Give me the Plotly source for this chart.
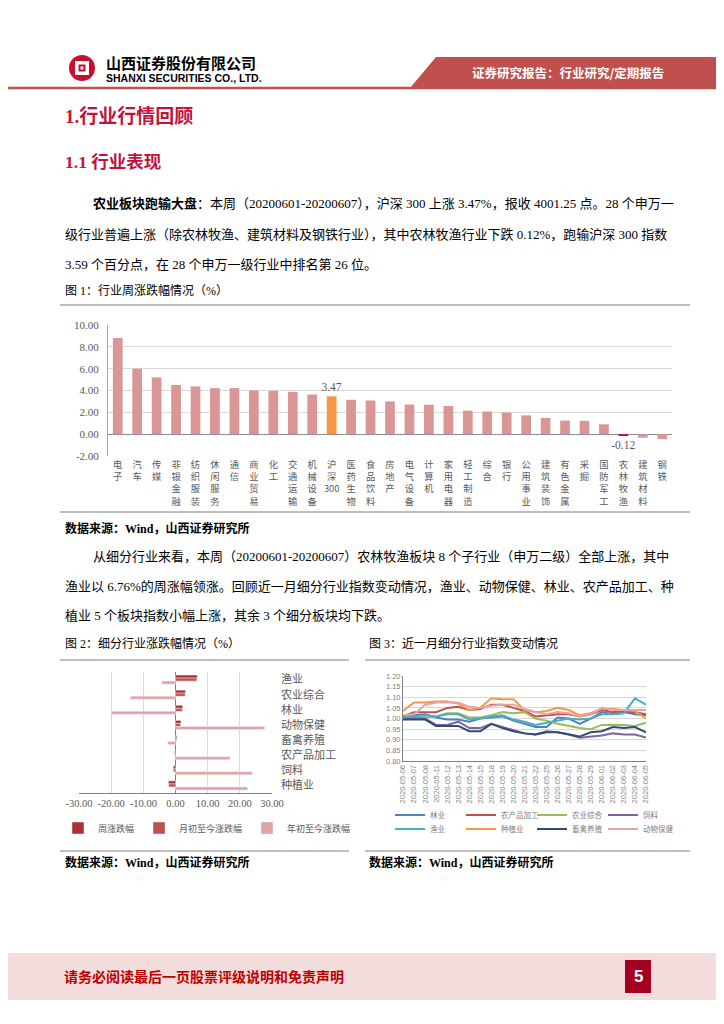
import plotly.graph_objects as go

W, H = 724, 1024
OFF = 8  # the page body margin shifts the figure by 8px; compensate


def px(x):
    return (x - OFF) / W


def py(y):
    return 1 - (y - OFF) / H


# ---------------- data ----------------
# Figure 1: 行业周涨跌幅 (%)
ind_names = ["电子", "汽车", "传媒", "非银金融", "纺织服装", "休闲服务", "通信", "商业贸易", "化工",
             "交通运输", "机械设备", "沪深300", "医药生物", "食品饮料", "房地产", "电气设备", "计算机",
             "家用电器", "轻工制造", "综合", "银行", "公用事业", "建筑装饰", "有色金属", "采掘",
             "国防军工", "农林牧渔", "建筑材料", "钢铁"]
ind_week = [8.80, 6.00, 5.20, 4.50, 4.38, 4.22, 4.22, 4.00, 3.97, 3.88, 3.63, 3.47, 3.15, 3.08,
            3.00, 2.72, 2.70, 2.58, 2.15, 2.08, 1.98, 1.72, 1.48, 1.24, 1.22, 0.90, -0.12, -0.32, -0.45]
ind_labeled = ["沪深300", "农林牧渔"]
fig1_ticks = [-2, 0, 2, 4, 6, 8, 10]

# Figure 2: 细分行业涨跌幅 (%)
sub_names = ["渔业", "农业综合", "林业", "动物保健", "畜禽养殖", "农产品加工", "饲料", "种植业"]
sub_week = [6.76, 3.10, 2.25, 1.70, 0.40, -0.30, -0.70, -2.20]
sub_month = [6.60, 3.00, 2.10, 1.55, 0.30, -0.20, -0.65, -2.10]
sub_ytd = [-4.20, -14.00, -20.00, 27.70, -2.40, 16.90, 23.90, 22.40]
fig2_ticks = [-30, -20, -10, 0, 10, 20, 30]

# Figure 3: 近一月细分行业指数
dates = ["2020-05-06", "2020-05-07", "2020-05-08", "2020-05-11", "2020-05-12", "2020-05-13",
         "2020-05-14", "2020-05-15", "2020-05-18", "2020-05-19", "2020-05-20", "2020-05-21",
         "2020-05-22", "2020-05-25", "2020-05-26", "2020-05-27", "2020-05-28", "2020-05-29",
         "2020-06-01", "2020-06-02", "2020-06-03", "2020-06-04", "2020-06-05"]
idx_linye = [1.005, 1.015, 1.020, 1.005, 0.995, 0.995, 0.985, 1.000, 1.005, 1.010, 0.990, 0.975,
             0.960, 0.960, 1.005, 1.000, 0.975, 1.000, 1.030, 1.020, 1.030, 1.020, 1.015]
idx_ncpjg = [1.010, 1.030, 1.030, 1.030, 1.050, 1.055, 1.040, 1.045, 1.065, 1.065, 1.050, 1.035,
             1.010, 1.015, 1.020, 1.020, 1.010, 1.020, 1.040, 1.030, 1.035, 1.030, 1.020]
idx_nyzh = [1.000, 1.005, 1.005, 1.010, 1.025, 1.025, 1.005, 1.005, 1.015, 1.030, 1.025, 1.030,
            1.000, 0.990, 0.975, 0.965, 0.955, 0.950, 0.970, 0.970, 0.970, 0.965, 0.980]
idx_siliao = [1.000, 1.000, 1.000, 0.970, 0.970, 0.985, 0.955, 0.955, 0.975, 0.960, 0.945, 0.930,
              0.925, 0.940, 0.935, 0.925, 0.910, 0.915, 0.920, 0.930, 0.925, 0.925, 0.910]
idx_yuye = [1.005, 1.010, 1.015, 1.010, 1.020, 1.020, 0.995, 1.000, 1.010, 1.015, 0.995, 0.985,
            0.970, 0.980, 0.990, 1.000, 0.995, 1.000, 1.020, 1.020, 1.025, 1.095, 1.065]
idx_zzy = [1.035, 1.075, 1.075, 1.080, 1.080, 1.070, 1.040, 1.050, 1.095, 1.090, 1.090, 1.040,
           1.030, 1.035, 1.050, 1.040, 1.015, 1.025, 1.045, 1.045, 1.040, 1.035, 1.000]
idx_xqyz = [0.995, 0.995, 0.995, 0.965, 0.965, 0.965, 0.940, 0.940, 0.975, 0.955, 0.940, 0.930,
            0.925, 0.935, 0.935, 0.925, 0.915, 0.935, 0.940, 0.960, 0.955, 0.960, 0.935]
idx_dwbj = [1.015, 1.020, 1.065, 1.075, 1.075, 1.075, 1.055, 1.050, 1.060, 1.065, 1.065, 1.045,
            1.030, 1.020, 1.030, 1.025, 1.010, 1.020, 1.050, 1.040, 1.040, 1.040, 1.040]
fig3_series = [("林业", idx_linye, "#4f81bd", "legend2"),
               ("农产品加工", idx_ncpjg, "#c0504d", "legend2"),
               ("农业综合", idx_nyzh, "#9bbb59", "legend2"),
               ("饲料", idx_siliao, "#8064a2", "legend2"),
               ("渔业", idx_yuye, "#4bacc6", "legend3"),
               ("种植业", idx_zzy, "#f79646", "legend3"),
               ("畜禽养殖", idx_xqyz, "#2c4d75", "legend3"),
               ("动物保健", idx_dwbj, "#e6a3a1", "legend3")]
fig3_ticks = [0.80, 0.85, 0.90, 0.95, 1.00, 1.05, 1.10, 1.15, 1.20]

# ---------------- styles ----------------
CJK = "Noto Sans CJK SC"
SERIF = "Liberation Serif, Noto Sans CJK SC"
GRAY = "#595959"
GRID = "#d9d9d9"
CRIMSON = "#c0143c"

fig = go.Figure()

# Figure 1 bars
bar_colors = []
bar_text = []
for n, v in zip(ind_names, ind_week):
    if n == "沪深300":
        bar_colors.append("#f79646")
    elif n == "农林牧渔":
        bar_colors.append("#c0143c")
    else:
        bar_colors.append("#da9694")
    bar_text.append(f"{v:.2f}" if n in ind_labeled else "")

fig.add_trace(go.Bar(
    x=ind_names, y=ind_week, marker=dict(color=bar_colors, line=dict(width=0)),
    width=0.5, text=bar_text, textposition="outside", cliponaxis=False,
    constraintext="none",
    textfont=dict(family=SERIF, size=11.5, color=GRAY),
    xaxis="x", yaxis="y", showlegend=False, hoverinfo="x+y"))

# Figure 2 bars
fig.add_trace(go.Bar(y=sub_names, x=sub_week, orientation="h", name="周涨跌幅",
                     marker_color="#a93232", xaxis="x2", yaxis="y2", legend="legend"))
fig.add_trace(go.Bar(y=sub_names, x=sub_month, orientation="h", name="月初至今涨跌幅",
                     marker_color="#c0504d", xaxis="x2", yaxis="y2", legend="legend"))
fig.add_trace(go.Bar(y=sub_names, x=sub_ytd, orientation="h", name="年初至今涨跌幅",
                     marker_color="#e3a3a3", xaxis="x2", yaxis="y2", legend="legend"))

# Figure 3 lines
for name, vals, color, lg in fig3_series:
    fig.add_trace(go.Scatter(x=dates, y=vals, mode="lines", name=name,
                             line=dict(color=color, width=2), xaxis="x3", yaxis="y3",
                             legend=lg))


# ---------------- axes ----------------
def stack(n):
    if n.endswith("300"):
        return "<br>".join(list(n[:-3])) + "<br>300"
    return "<br>".join(list(n))


tick_text1 = [stack(n) for n in ind_names]
fig.update_layout(
    xaxis=dict(domain=[px(108), px(672)], anchor="y", type="category",
               tickmode="array", tickvals=ind_names, ticktext=tick_text1,
               tickfont=dict(family=CJK, size=9.3, color=GRAY), showline=False,
               showgrid=False, ticks="", fixedrange=True, ticklabelstandoff=2),
    yaxis=dict(domain=[py(456), py(325)], anchor="x", range=[-2, 10],
               tickmode="array", tickvals=fig1_ticks,
               ticktext=[f"{t:.2f}" for t in fig1_ticks],
               tickfont=dict(family=SERIF, size=11, color=GRAY),
               showgrid=True, gridcolor=GRID, gridwidth=1,
               zeroline=True, zerolinecolor="#8c8c8c", zerolinewidth=1.2,
               showline=True, linecolor="#a6a6a6", linewidth=1, ticks="",
               ticklabelstandoff=6),
    xaxis2=dict(domain=[px(79), px(272)], anchor="y2", range=[-30, 30],
                tickmode="array", tickvals=fig2_ticks,
                ticktext=[f"{t:.2f}" for t in fig2_ticks],
                tickfont=dict(family=SERIF, size=10.5, color=GRAY),
                showgrid=True, gridcolor=GRID, zeroline=True, zerolinecolor="#7f7f7f",
                zerolinewidth=1.2, showline=True, linecolor="#7f7f7f", linewidth=1.2,
                ticks=""),
    yaxis2=dict(domain=[py(793), py(672)], anchor="x2", autorange="reversed",
                side="right", showgrid=False, showline=False, ticks="",
                tickfont=dict(family=CJK, size=11, color=GRAY), ticklabelstandoff=8),
    xaxis3=dict(domain=[px(403), px(646)], anchor="y3", type="category",
                tickangle=-90, tickfont=dict(family="Liberation Sans", size=7.5, color="#7f7f7f"),
                showgrid=False, showline=True, linecolor="#7f7f7f", linewidth=1, ticks=""),
    yaxis3=dict(domain=[py(761), py(676)], anchor="x3", range=[0.80, 1.20],
                tickmode="array", tickvals=fig3_ticks,
                ticktext=[f"{t:.2f}" for t in fig3_ticks],
                tickfont=dict(family="Liberation Sans", size=7.5, color="#7f7f7f"),
                showgrid=True, gridcolor=GRID, zeroline=False,
                showline=True, linecolor="#7f7f7f", linewidth=1, ticks=""),
    barmode="group", bargap=0.4, bargroupgap=0.0,
    legend=dict(orientation="h", x=px(58), y=py(828), xanchor="left", yanchor="middle",
                font=dict(family=CJK, size=9, color=GRAY), itemwidth=30,
                bgcolor="rgba(0,0,0,0)", traceorder="normal", tracegroupgap=0),
    legend2=dict(orientation="h", x=px(390), y=py(815), xanchor="left", yanchor="middle",
                 font=dict(family=CJK, size=7.5, color="#7f7f7f"), itemwidth=30,
                 entrywidth=26, entrywidthmode="pixels", bgcolor="rgba(0,0,0,0)"),
    legend3=dict(orientation="h", x=px(390), y=py(829), xanchor="left", yanchor="middle",
                 font=dict(family=CJK, size=7.5, color="#7f7f7f"), itemwidth=30,
                 entrywidth=26, entrywidthmode="pixels", bgcolor="rgba(0,0,0,0)"),
    width=W, height=H, margin=dict(l=0, r=0, t=0, b=0, autoexpand=False),
    paper_bgcolor="white", plot_bgcolor="white",
)

# ---------------- page decoration ----------------
shapes = []


def hline(x0, x1, y, color="#7f7f7f", w=1.2):
    shapes.append(dict(type="line", xref="paper", yref="paper", x0=px(x0), x1=px(x1),
                       y0=py(y), y1=py(y), line=dict(color=color, width=w)))


# header
hline(0, 732, 88, color="#c0504d", w=2.5)
shapes.append(dict(type="path", xref="paper", yref="paper",
                   path=f"M {px(410)} {py(88)} L {px(436)} {py(57)} L {px(732)} {py(57)} L {px(732)} {py(88)} Z",
                   fillcolor="#c0504d", line=dict(width=0)))
shapes.append(dict(type="circle", xref="paper", yref="paper",
                   x0=px(69), x1=px(95), y0=py(81), y1=py(55),
                   fillcolor="#c8102e", line=dict(width=0)))
shapes.append(dict(type="rect", xref="paper", yref="paper",
                   x0=px(75), x1=px(89), y0=py(75), y1=py(61),
                   fillcolor="white", line=dict(width=0)))
shapes.append(dict(type="rect", xref="paper", yref="paper",
                   x0=px(78.5), x1=px(85.5), y0=py(71.5), y1=py(64.5),
                   fillcolor="#c8102e", line=dict(width=0)))
shapes.append(dict(type="rect", xref="paper", yref="paper",
                   x0=px(80.5), x1=px(83.5), y0=py(69.5), y1=py(66.5),
                   fillcolor="white", line=dict(width=0)))

# rules around figures
hline(60, 690, 305)
hline(60, 690, 512, w=1)
hline(60, 349, 660)
hline(365, 690, 660)
hline(60, 349, 851, w=1)
hline(365, 690, 851, w=1)

# footer
shapes.append(dict(type="rect", xref="paper", yref="paper", x0=px(0), x1=px(732),
                   y0=py(1000), y1=py(953), fillcolor="#f2dcdc", line=dict(width=0)))
shapes.append(dict(type="rect", xref="paper", yref="paper", x0=px(625), x1=px(651),
                   y0=py(993), y1=py(960), fillcolor="#a50021", line=dict(width=0)))

fig.update_layout(shapes=shapes)

ann = []


def text(x, y, s, size=13, color="#000000", family=SERIF, anchor="left", bold=False):
    if bold:
        s = f"<b>{s}</b>"
    ann.append(dict(x=px(x), y=py(y), xref="paper", yref="paper", text=s, showarrow=False,
                    xanchor=anchor, yanchor="middle", font=dict(size=size, color=color, family=family)))


text(104, 62, "山西证券股份有限公司", size=15, family=CJK, bold=True)
text(104, 78, "SHANXI SECURITIES CO., LTD.", size=10.5, family="Liberation Sans Narrow, Liberation Sans", bold=True)
text(568, 72, "证券研究报告：行业研究/定期报告", size=12.5, color="white", family=CJK, anchor="center", bold=True)

text(63, 116, "1.行业行情回顾", size=19, color=CRIMSON, bold=True)
text(63, 162, "1.1 行业表现", size=17.5, color=CRIMSON, bold=True)

text(91, 203, "<b>农业板块跑输大盘</b>：本周（20200601-20200607），沪深 300 上涨 3.47%，报收 4001.25 点。28 个申万一", size=13)
text(63, 234, "级行业普遍上涨（除农林牧渔、建筑材料及钢铁行业），其中农林牧渔行业下跌 0.12%，跑输沪深 300 指数", size=13)
text(63, 264, "3.59 个百分点，在 28 个申万一级行业中排名第 26 位。", size=13)
text(63, 290, "图 1：行业周涨跌幅情况（%）", size=12)

text(63, 528, "<b>数据来源：Wind，山西证券研究所</b>", size=12)

text(91, 556, "从细分行业来看，本周（20200601-20200607）农林牧渔板块 8 个子行业（申万二级）全部上涨，其中", size=13)
text(63, 586, "渔业以 6.76%的周涨幅领涨。回顾近一月细分行业指数变动情况，渔业、动物保健、林业、农产品加工、种", size=13)
text(63, 615, "植业 5 个板块指数小幅上涨，其余 3 个细分板块均下跌。", size=13)

text(63, 643, "图 2：细分行业涨跌幅情况（%）", size=12)
text(367, 643, "图 3：近一月细分行业指数变动情况", size=12)

text(63, 862, "<b>数据来源：Wind，山西证券研究所</b>", size=12)
text(367, 862, "<b>数据来源：Wind，山西证券研究所</b>", size=12)

text(62, 976, "请务必阅读最后一页股票评级说明和免责声明", size=14, color="#c00000", family=CJK, bold=True)
text(638, 976.5, "5", size=17, color="white", family="Liberation Sans", anchor="center", bold=True)

fig.update_layout(annotations=ann)

fig.write_html("out.html")
